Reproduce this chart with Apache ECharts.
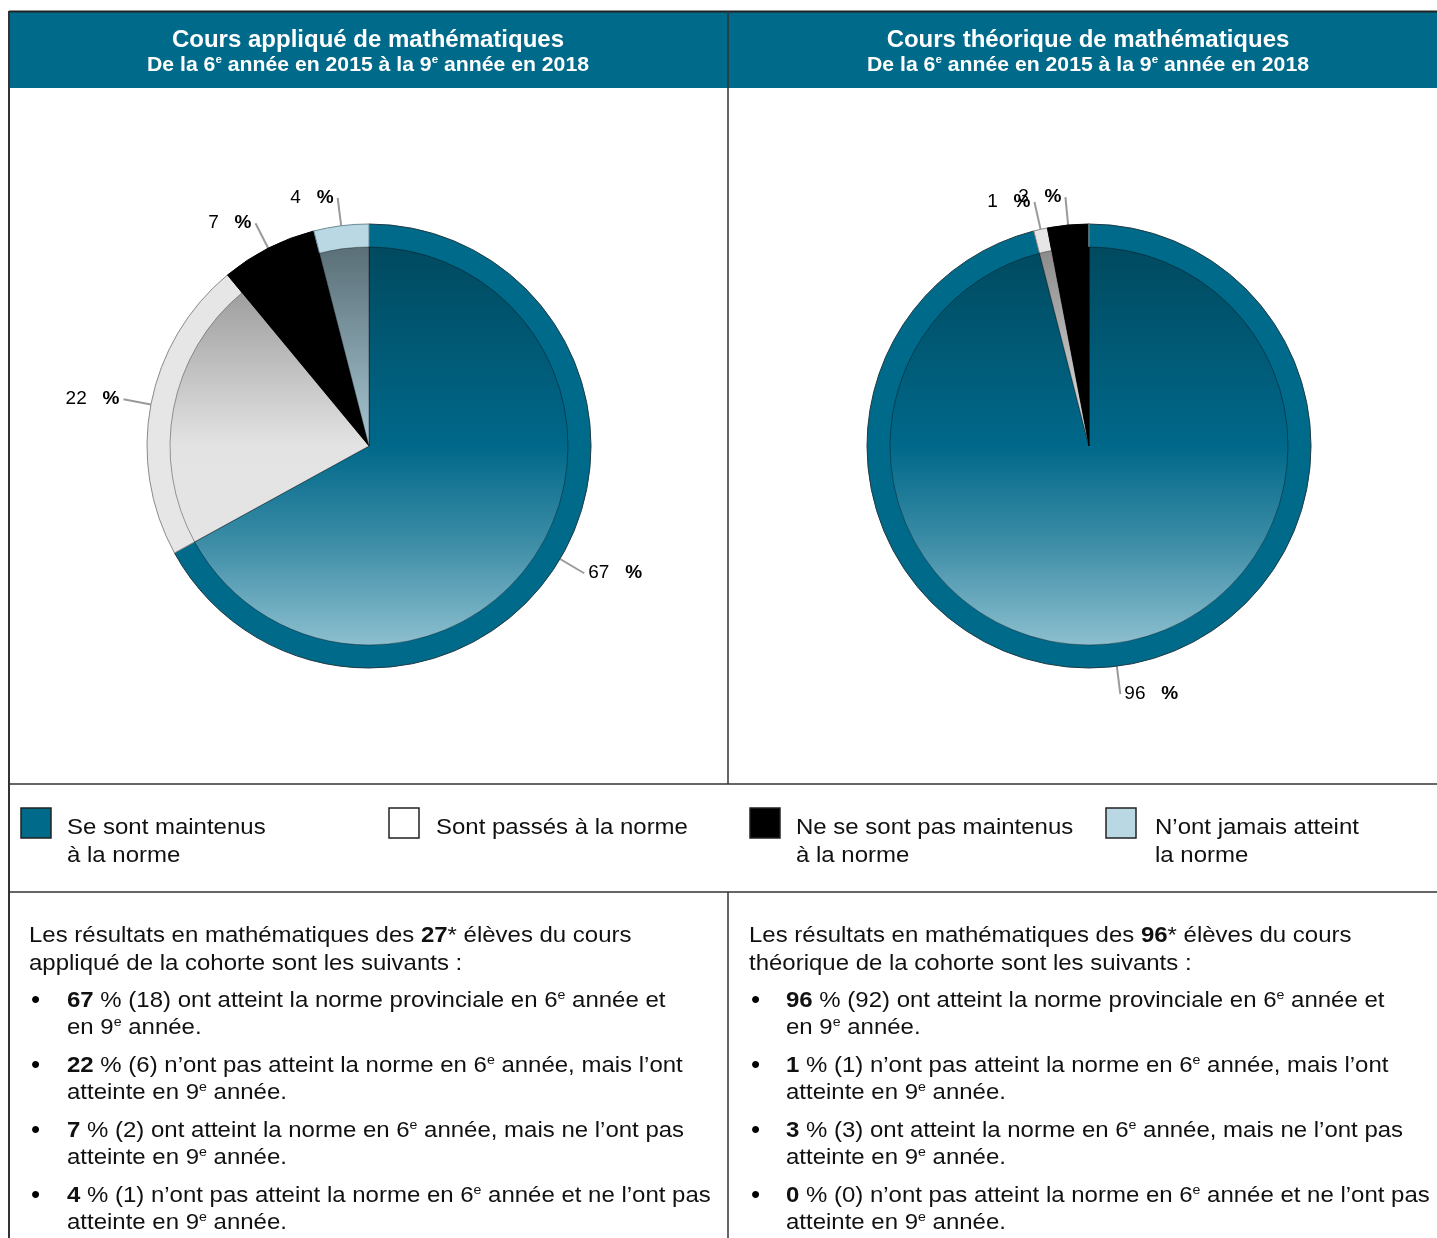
<!DOCTYPE html>
<html><head><meta charset="utf-8">
<script src="https://cdn.jsdelivr.net/npm/echarts@6/dist/echarts.min.js"></script>
<style>html,body{margin:0;padding:0;background:#fff}#c{width:1437px;height:1238px}</style>
</head><body><div id="c"></div>
<script>
// ---------- data ----------
const categories = ['Se sont maintenus à la norme', 'Sont passés à la norme', 'Ne se sont pas maintenus à la norme', 'N’ont jamais atteint la norme'];
const legendLines = [['Se sont maintenus', 'à la norme'], ['Sont passés à la norme'], ['Ne se sont pas maintenus', 'à la norme'], ['N’ont jamais atteint', 'la norme']];
const appliedPct = [67, 22, 7, 4];
const appliedCounts = [18, 6, 2, 1];
const appliedTotal = 27;
const theoryPct = [96, 1, 3, 0];
const theoryCounts = [92, 1, 3, 0];
const theoryTotal = 96;
const panelTitles = ['Cours appliqué de mathématiques', 'Cours théorique de mathématiques'];
const panelSubtitle = 'De la 6{s|e} année en 2015 à la 9{s|e} année en 2018';
const introLines = [
  ['Les résultats en mathématiques des {b|' + appliedTotal + '}* élèves du cours', 'appliqué de la cohorte sont les suivants :'],
  ['Les résultats en mathématiques des {b|' + theoryTotal + '}* élèves du cours', 'théorique de la cohorte sont les suivants :']
];
const bulletTails = [
  ['ont atteint la norme provinciale en 6{s|e} année et', 'en 9{s|e} année.'],
  ['n’ont pas atteint la norme en 6{s|e} année, mais l’ont', 'atteinte en 9{s|e} année.'],
  ['ont atteint la norme en 6{s|e} année, mais ne l’ont pas', 'atteinte en 9{s|e} année.'],
  ['n’ont pas atteint la norme en 6{s|e} année et ne l’ont pas', 'atteinte en 9{s|e} année.']
];

// ---------- styles ----------
const TEAL = '#006a8a';
const ringColors = [TEAL, '#e6e6e6', '#000000', '#b9d8e3'];
const ringBorders = ['#1f3c46', '#8a8a8a', '#000000', '#6a8a95'];
const FONT = 'Arial, "Liberation Sans", sans-serif';
const pieCenters = [[369, 446], [1089, 446]];
const R_OUT = 222, R_IN = 199;
const SX = 1.09;

function grad(stops) {
  return { type: 'linear', x: 0, y: 247, x2: 0, y2: 645, global: true,
    colorStops: stops.map(s => ({ offset: s[0], color: s[1] })) };
}
const innerColors = [
  grad([[0, '#004a5f'], [0.5, '#00688a'], [0.75, '#3f8ea7'], [1, '#8dbfcf']]),
  grad([[0, '#8a8a8a'], [0.5, '#e3e3e3'], [1, '#e6e6e6']]),
  '#000000',
  grad([[0, '#5a6f78'], [0.5, '#a6c6d2'], [1, '#b9d8e3']])
];

function pieSeries(vals, center) {
  const outer = {
    type: 'pie', center: center, radius: [0, R_OUT], startAngle: 90, clockwise: true,
    avoidLabelOverlap: false, silent: true,
    labelLayout: { hideOverlap: false },
    data: vals.map((v, i) => ({
      value: v, name: categories[i],
      itemStyle: { color: ringColors[i], borderColor: ringBorders[i], borderWidth: 1 },
      label: { show: v > 0 }, labelLine: { show: v > 0 }
    })),
    label: { show: true, formatter: p => p.value + '   {p|%}', fontSize: 19, color: '#000', fontFamily: FONT, distanceToLabelLine: 4,
      rich: { p: { fontSize: 19, fontWeight: 'bold', color: '#000', fontFamily: FONT } } },
    labelLine: { show: true, length: 28, length2: 0, smooth: false, lineStyle: { color: '#9a9a9a', width: 2 } }
  };
  const inner = {
    type: 'pie', center: center, radius: [0, R_IN], startAngle: 90, clockwise: true, silent: true,
    data: vals.map((v, i) => ({
      value: v, name: categories[i],
      itemStyle: { color: innerColors[i], borderColor: 'rgba(0,0,0,0.45)', borderWidth: 0.8 }
    })),
    label: { show: false }, labelLine: { show: false }
  };
  return [outer, inner];
}

// ---------- graphics ----------
const g = [];
function line(x1, y1, x2, y2, w, c) {
  g.push({ type: 'line', shape: { x1, y1, x2, y2 }, style: { stroke: c || '#333', lineWidth: w || 1.5 }, z: 50 });
}
function text(x, y, t, opt, sx) {
  opt = opt || {};
  g.push({ type: 'text', x: x, y: y, z: 60, scaleX: sx || SX, style: Object.assign({
    text: t, fill: '#111', fontSize: 22, fontFamily: FONT, align: 'left', verticalAlign: 'middle',
    lineHeight: 24,
    rich: {
      b: { fontWeight: 'bold', fontSize: 22, fontFamily: FONT, fill: '#111', lineHeight: 24 },
      s: { fontSize: 13, fontFamily: FONT, fill: '#111', lineHeight: 14, verticalAlign: 'top' }
    }
  }, opt) });
}

// header
g.push({ type: 'rect', shape: { x: 9, y: 11, width: 1428, height: 77 }, style: { fill: TEAL }, z: 10 });
line(9, 11.5, 1437, 11.5, 2, '#222');
line(9, 11, 9, 1238, 2, '#333');
line(728, 11, 728, 784, 1.5, '#333');
line(728, 892, 728, 1238, 1.5, '#333');
line(9, 784, 1437, 784, 1.5, '#333');
line(9, 892, 1437, 892, 1.5, '#333');

const headerX = [368, 1088];
panelTitles.forEach((t, i) => {
  text(headerX[i], 40, t, { fill: '#fff', fontSize: 24, fontWeight: 'bold', align: 'center', rich: {} }, 1);
  text(headerX[i], 65, panelSubtitle, { fill: '#fff', fontSize: 20, fontWeight: 'bold', align: 'center', lineHeight: 22,
    rich: { s: { fontSize: 11, fontWeight: 'bold', fontFamily: FONT, fill: '#fff', lineHeight: 12, verticalAlign: 'top' } } }, 1.06);
});

// legend
const legBoxX = [21, 389, 750, 1106];
const legTextX = [67, 436, 796, 1155];
legendLines.forEach((ls, i) => {
  g.push({ type: 'rect', shape: { x: legBoxX[i], y: 808, width: 30, height: 30 },
    style: { fill: i === 1 ? '#fff' : ringColors[i], stroke: '#222', lineWidth: 1.5 }, z: 40 });
  ls.forEach((l, j) => text(legTextX[i], 828 + j * 28, l, { rich: {} }));
});

// body text
const bodyX = [29, 749], bulletX = [31, 751], bulletTextX = [67, 786];
const pctSets = [appliedPct, theoryPct], cntSets = [appliedCounts, theoryCounts];
const bulletYs = [1001, 1066, 1131, 1196];
[0, 1].forEach(p => {
  text(bodyX[p], 936, introLines[p][0]);
  text(bodyX[p], 964, introLines[p][1]);
  bulletTails.forEach((bt, k) => {
    text(bulletX[p], bulletYs[k], '•', { fontSize: 26, fill: '#000' }, 1);
    text(bulletTextX[p], bulletYs[k], '{b|' + pctSets[p][k] + '} % (' + cntSets[p][k] + ') ' + bt[0]);
    text(bulletTextX[p], bulletYs[k] + 27, bt[1]);
  });
});

const chart = echarts.init(document.getElementById('c'), null, { renderer: 'canvas' });
chart.setOption({
  animation: false,
  backgroundColor: '#fff',
  series: [].concat(pieSeries(appliedPct, pieCenters[0]), pieSeries(theoryPct, pieCenters[1])),
  graphic: g
});
</script>
</body></html>
